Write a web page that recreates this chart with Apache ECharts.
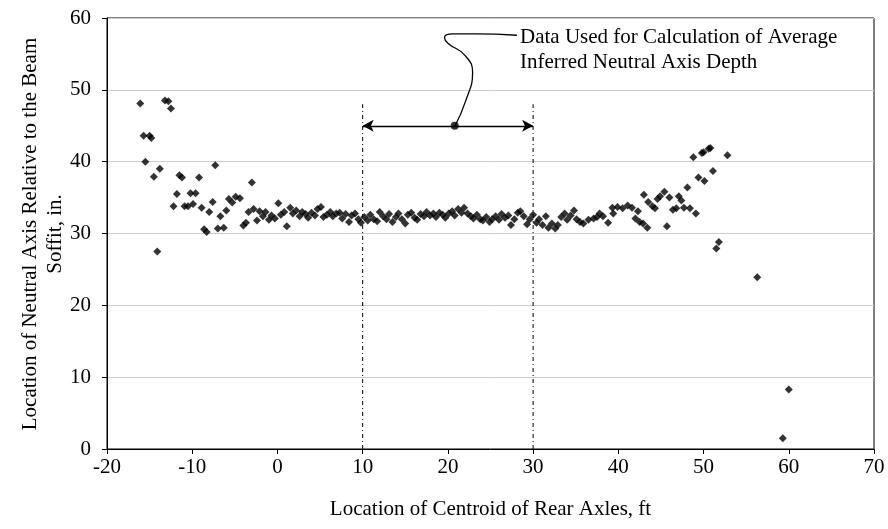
<!DOCTYPE html>
<html>
<head>
<meta charset="utf-8">
<script src="https://cdn.jsdelivr.net/npm/echarts@6/dist/echarts.min.js"></script>
<style>html,body{margin:0;padding:0;background:#fff}#c{width:888px;height:529px}</style>
</head>
<body>
<div id="c"></div>
<script>
// Location of centroid of rear axles, ft
var xVals = [
-16.1,-15.7,-15.5,-15.0,-14.8,-14.5,-14.1,-13.8,-13.2,-12.8,-12.5,-12.2,-11.8,-11.5,-11.2,-10.9,-10.5,-10.2,-9.9,-9.6,
-9.2,-8.9,-8.6,-8.3,-8.0,-7.6,-7.3,-7.0,-6.7,-6.3,-6.0,-5.7,-5.3,-4.9,-4.4,-4.0,-3.7,-3.4,-3.0,-2.8,
-2.4,-2.1,-1.7,-1.4,-1.0,-0.7,-0.3,0.1,0.4,0.8,1.1,1.5,1.8,2.2,2.6,2.9,3.3,3.6,4.0,4.4,
4.7,5.1,5.4,5.8,6.2,6.5,6.9,7.3,7.6,8.0,8.4,8.7,9.1,9.5,9.8,10.2,10.6,10.9,11.3,11.7,
12.0,12.4,12.8,13.1,13.5,13.9,14.2,14.6,15.0,15.3,15.7,16.1,16.4,16.8,17.2,17.5,17.9,18.3,18.6,19.0,
19.4,19.7,20.1,20.5,20.8,21.2,21.6,21.9,22.3,22.7,23.0,23.4,23.8,24.1,24.5,24.9,25.2,25.6,26.0,26.3,
26.7,27.1,27.4,27.8,28.2,28.5,28.9,29.3,29.6,30.0,30.4,30.7,31.1,31.5,31.8,32.2,32.6,32.9,33.3,33.7,
34.0,34.4,34.8,35.1,35.5,35.9,36.5,37.1,37.5,37.8,38.2,38.8,39.3,39.4,39.9,40.5,41.1,41.6,42.0,42.3,
42.5,42.9,43.0,43.4,43.5,44.0,44.3,44.6,44.9,45.4,45.7,46.0,46.4,46.8,47.1,47.4,47.7,48.1,48.4,48.8,
49.1,49.4,49.8,50.0,50.1,50.6,50.8,51.1,51.5,51.8,52.8,56.3,59.3,60.0
];
// Location of neutral axis relative to the beam soffit, in.
var yVals = [
48.1,43.6,40.0,43.6,43.3,37.9,27.5,39.0,48.5,48.4,47.4,33.8,35.5,38.1,37.8,33.8,33.8,35.6,34.1,35.6,
37.8,33.6,30.6,30.2,33.0,34.4,39.5,30.7,32.4,30.8,33.2,34.8,34.3,35.1,34.9,31.1,31.5,33.0,37.1,33.4,
31.8,33.1,32.4,33.0,31.9,32.5,32.1,34.2,32.6,33.0,31.0,33.6,32.8,33.2,32.4,33.0,32.7,32.2,32.9,32.5,
33.4,33.7,32.3,32.6,33.0,32.4,32.8,32.9,32.1,32.7,31.6,32.5,32.8,32.0,31.5,32.3,31.8,32.6,32.0,31.7,
33.0,32.4,32.0,32.7,31.6,32.3,32.8,32.0,31.4,32.6,32.9,32.2,31.9,32.7,32.4,33.0,32.5,32.8,32.3,32.9,
32.6,32.2,32.8,33.1,32.5,33.4,32.9,33.6,32.8,32.4,32.1,32.6,32.0,31.8,32.3,31.6,32.0,32.4,31.9,32.7,
32.2,32.5,31.2,32.0,32.9,33.1,32.4,31.3,32.0,32.6,31.5,32.0,31.2,32.4,30.8,31.4,30.7,31.2,32.3,32.8,
31.9,32.5,33.2,32.0,31.6,31.4,31.9,32.1,32.3,32.8,32.4,31.5,33.6,32.8,33.7,33.5,33.9,33.6,32.1,33.1,
31.6,31.4,35.4,30.8,34.4,33.8,33.5,34.8,35.2,35.8,31.0,35.0,33.3,33.5,35.2,34.6,33.6,36.4,33.5,40.6,
32.8,37.8,41.2,41.3,37.3,41.8,41.9,38.7,27.9,28.8,40.9,23.9,1.5,8.3
];
var xTicks = {min: -20, max: 70, interval: 10};
var yTicks = {min: 0, max: 60, interval: 10};
// annotation geometry in data units
var rangeLines = [10, 30];
var rangeTop = 48;
var arrowY = 45;
var calloutDot = [[20.8, 45]];
var calloutCurve = [[20.8,44.9],[22.1,48.5],[22.9,52.4],[22.0,54.8],[20.0,56.5],[19.6,57.3],[20.6,57.8],[23.2,57.8],[28.1,57.6]];
var calloutText = ['Data Used for Calculation of Average', 'Inferred Neutral Axis Depth'];
var yTitle = ['Location of Neutral Axis Relative to the Beam', 'Soffit, in.'];
var xTitle = 'Location of Centroid of Rear Axles, ft';

var pts = xVals.map(function (x, i) { return [x, yVals[i]]; });
var font = 'Liberation Serif, Times New Roman, serif';
var fs = 21;
var chart = echarts.init(document.getElementById('c'), null, {renderer: 'canvas'});
chart.setOption({
  animation: false,
  backgroundColor: '#fff',
  grid: {left: 107, right: 14, top: 18, bottom: 80, show: true, borderColor: '#000', borderWidth: 1, backgroundColor: 'transparent'},
  xAxis: {
    type: 'value', min: xTicks.min, max: xTicks.max, interval: xTicks.interval,
    axisLine: {show: true, onZero: false, lineStyle: {color: '#000', width: 1}},
    axisTick: {show: true, inside: false, length: 5, lineStyle: {color: '#000'}},
    axisLabel: {color: '#000', fontFamily: font, fontSize: fs, margin: 8},
    splitLine: {show: false},
    name: xTitle, nameLocation: 'middle', nameGap: 50,
    nameTextStyle: {color: '#000', fontFamily: font, fontSize: fs}
  },
  yAxis: {
    type: 'value', min: yTicks.min, max: yTicks.max, interval: yTicks.interval,
    axisLine: {show: true, onZero: false, lineStyle: {color: '#000', width: 1}},
    axisTick: {show: true, inside: false, length: 5, lineStyle: {color: '#000'}},
    axisLabel: {color: '#000', fontFamily: font, fontSize: fs, margin: 16},
    splitLine: {show: true, lineStyle: {color: '#cccccc', width: 1}}
  },
  series: [
    {
      type: 'scatter', data: pts, symbol: 'diamond', symbolSize: 8,
      itemStyle: {color: '#000'}, z: 5
    },
    {
      type: 'line', data: [[rangeLines[0], 0], [rangeLines[0], rangeTop]], symbol: 'none',
      lineStyle: {color: '#000', width: 1, type: [4, 3, 1, 3]}, z: 3
    },
    {
      type: 'line', data: [[rangeLines[1], 0], [rangeLines[1], rangeTop]], symbol: 'none',
      lineStyle: {color: '#000', width: 1, type: [4, 3, 1, 3]}, z: 3
    },
    {
      type: 'line', data: [], symbol: 'none',
      markLine: {
        silent: true, symbol: ['arrow', 'arrow'], symbolSize: [9, 11],
        label: {show: false},
        lineStyle: {color: '#000', width: 1.3, type: 'solid'},
        data: [[{coord: [rangeLines[0], arrowY]}, {coord: [rangeLines[1], arrowY]}]]
      }
    },
    {
      type: 'line', data: calloutCurve, smooth: 0.5, symbol: 'none',
      lineStyle: {color: '#000', width: 1.3}, z: 4
    },
    {
      type: 'scatter', data: calloutDot, symbol: 'circle', symbolSize: 8,
      itemStyle: {color: '#000'}, z: 6
    }
  ],
  graphic: [
    {type: 'text', x: 520, y: 37, style: {text: calloutText[0], fill: '#000', font: fs + 'px ' + font, textVerticalAlign: 'middle'}},
    {type: 'text', x: 520, y: 62, style: {text: calloutText[1], fill: '#000', font: fs + 'px ' + font, textVerticalAlign: 'middle'}},
    {type: 'text', x: 30, y: 234, rotation: Math.PI / 2,
     style: {text: yTitle[0], fill: '#000', font: fs + 'px ' + font, textAlign: 'center', textVerticalAlign: 'middle'}},
    {type: 'text', x: 55, y: 234, rotation: Math.PI / 2,
     style: {text: yTitle[1], fill: '#000', font: fs + 'px ' + font, textAlign: 'center', textVerticalAlign: 'middle'}}
  ]
});
</script>
</body>
</html>
